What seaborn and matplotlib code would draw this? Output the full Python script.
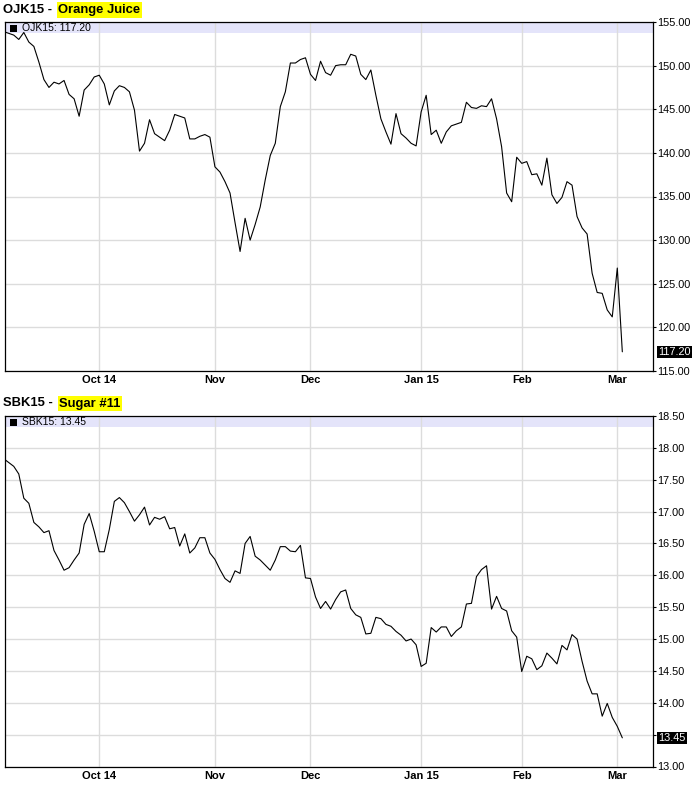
import matplotlib
matplotlib.use("Agg")
import matplotlib.pyplot as plt
from matplotlib.patches import Rectangle
import pandas as pd
import seaborn as sns

# trading sessions from Sep 4 2014 to Mar 3 2015, one value per session
month_ticks = [19, 42, 61, 83, 103, 122]
month_labels = ['Oct 14', 'Nov', 'Dec', 'Jan 15', 'Feb', 'Mar']

oj_close = [
    153.9, 153.7, 153.5, 153.0, 153.8, 152.7, 152.2, 150.4, 148.4, 147.5,
    148.1, 147.9, 148.3, 146.7, 146.2, 144.2, 147.2, 147.8, 148.7, 148.9,
    147.9, 145.5, 147.1, 147.7, 147.5, 147.0, 144.9, 140.2, 141.1, 143.8,
    142.2, 141.8, 141.4, 142.6, 144.4, 144.2, 144.0, 141.6, 141.6, 141.9,
    142.1, 141.8, 138.4, 137.8, 136.7, 135.4, 132.0, 128.7, 132.5, 130.0,
    131.8, 133.8, 136.9, 139.7, 141.1, 145.3, 147.0, 150.3, 150.3, 150.7,
    150.9, 149.0, 148.3, 150.5, 149.2, 148.9, 150.0, 150.1, 150.1, 151.3,
    151.1, 149.0, 148.4, 149.5, 146.6, 143.9, 142.4, 141.0, 144.5, 142.2,
    141.7, 141.1, 140.8, 144.7, 146.6, 142.1, 142.6, 141.1, 142.4, 143.1,
    143.3, 143.5, 145.8, 145.2, 145.1, 145.4, 145.3, 146.2, 143.9, 140.7,
    135.4, 134.4, 139.5, 138.8, 139.0, 137.5, 137.6, 136.3, 139.4, 135.2,
    134.2, 134.9, 136.7, 136.3, 132.7, 131.4, 130.7, 126.2, 124.0, 123.9,
    122.0, 121.2, 126.8, 117.2,
]

sugar_close = [
    17.83, 17.77, 17.71, 17.59, 17.21, 17.13, 16.83, 16.76, 16.67, 16.70,
    16.39, 16.24, 16.08, 16.12, 16.24, 16.35, 16.80, 16.97, 16.69, 16.37,
    16.37, 16.72, 17.16, 17.22, 17.14, 17.00, 16.85, 16.95, 17.07, 16.79,
    16.91, 16.88, 16.92, 16.73, 16.75, 16.46, 16.65, 16.35, 16.43, 16.59,
    16.59, 16.35, 16.25, 16.09, 15.95, 15.89, 16.07, 16.03, 16.50, 16.61,
    16.30, 16.24, 16.16, 16.08, 16.24, 16.45, 16.45, 16.38, 16.37, 16.47,
    15.96, 15.95, 15.66, 15.48, 15.59, 15.47, 15.62, 15.74, 15.77, 15.48,
    15.38, 15.34, 15.08, 15.09, 15.34, 15.32, 15.23, 15.20, 15.12, 15.06,
    14.97, 15.00, 14.91, 14.57, 14.62, 15.18, 15.11, 15.19, 15.19, 15.04,
    15.13, 15.19, 15.55, 15.56, 15.98, 16.09, 16.15, 15.47, 15.67, 15.48,
    15.44, 15.13, 15.03, 14.49, 14.73, 14.69, 14.52, 14.58, 14.78, 14.70,
    14.61, 14.90, 14.83, 15.07, 15.00, 14.65, 14.34, 14.14, 14.14, 13.79,
    13.99, 13.77, 13.63, 13.45,
]

oj_ticks = [115, 120, 125, 130, 135, 140, 145, 150, 155]
sugar_ticks = [13.0, 13.5, 14.0, 14.5, 15.0, 15.5, 16.0, 16.5, 17.0, 17.5, 18.0, 18.5]

sns.set_style("white")
plt.rcParams['font.family'] = ['Liberation Sans', 'DejaVu Sans']
plt.rcParams['text.color'] = 'black'

W, H = 695, 785
fig = plt.figure(figsize=(W / 100, H / 100), dpi=100)

AX_LEFT, AX_RIGHT = 5, 653
BAND_PX = 11


def px_axes(top, bottom):
    return fig.add_axes([AX_LEFT / W, 1 - bottom / H, (AX_RIGHT - AX_LEFT) / W, (bottom - top) / H])


def draw_panel(ax, values, ticks, symbol, name, title_y):
    df = pd.DataFrame({'session': range(len(values)), 'close': values})
    sns.lineplot(data=df, x='session', y='close', ax=ax, color='black', linewidth=0.8, zorder=3)

    last = values[-1]
    step = ticks[1] - ticks[0]
    ax.set_xlim(0.26, 129.1)
    ax.set_ylim(ticks[0], ticks[-1])
    ax.set_yticks(ticks)
    # the last-value box hides a tick label that sits right under it
    ax.set_yticklabels(['' if abs(t - last) < step * 0.4 else f'{t:.2f}' for t in ticks])
    ax.set_xticks(month_ticks)
    ax.set_xticklabels(month_labels, fontweight='bold')
    ax.set_xlabel('')
    ax.set_ylabel('')

    ax.yaxis.tick_right()
    ax.tick_params(axis='y', length=2.3, width=0.8, pad=1, labelsize=7.8, colors='black', direction='out')
    ax.tick_params(axis='x', length=0, pad=3, labelsize=8, colors='black')

    ax.set_axisbelow(True)
    ax.grid(True, color='#DCDCDC', linewidth=1.0)
    for s in ax.spines.values():
        s.set_color('black')
        s.set_linewidth(0.9)

    # legend band at the top of the panel
    h_px = ax.get_position().height * H
    w_px = ax.get_position().width * W
    ax.add_patch(Rectangle((0, 1 - BAND_PX / h_px), 1, BAND_PX / h_px, transform=ax.transAxes,
                           facecolor='#E4E4FA', edgecolor='none', zorder=0.4))
    ax.add_patch(Rectangle((5 / w_px, 1 - 10 / h_px), 7 / w_px, 7 / h_px, transform=ax.transAxes,
                           facecolor='black', edgecolor='none', zorder=4))
    ax.text(17 / w_px, 1 - 6.3 / h_px, f'{symbol}: {last:.2f}', transform=ax.transAxes,
            fontsize=7.5, va='center', ha='left', color='black', zorder=4)

    # last value box
    ax.annotate(f'{last:.2f}', xy=(1, last), xycoords=('axes fraction', 'data'),
                xytext=(3.6, 0), textcoords='offset points', ha='left', va='center',
                color='white', fontsize=7.8,
                bbox=dict(boxstyle='square,pad=0.12', facecolor='black', edgecolor='none'))

    # title with highlighted contract name
    t1 = fig.text(3 / W, 1 - title_y / H, f'{symbol} - ', fontsize=9.4, fontweight='bold',
                  va='center', color='black')
    ax.annotate(name, xy=(1, 0.5), xycoords=t1, xytext=(2, 0), textcoords='offset points',
                fontsize=9.4, fontweight='bold', va='center', ha='left', color='black',
                annotation_clip=False,
                bbox=dict(boxstyle='square,pad=0.12', facecolor='#FFFF00', edgecolor='none'))


ax_top = px_axes(22, 371)
ax_bot = px_axes(416, 766.5)

draw_panel(ax_top, oj_close, oj_ticks, 'OJK15', 'Orange Juice', 10)
draw_panel(ax_bot, sugar_close, sugar_ticks, 'SBK15', 'Sugar #11', 403.5)

fig.savefig('out.png', dpi=100)
